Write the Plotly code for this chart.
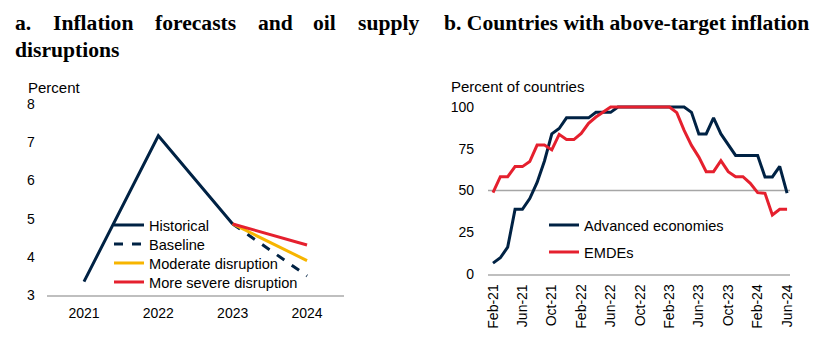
import plotly.graph_objects as go

# ---- Panel a data ----
years = ["2021", "2022", "2023", "2024"]
historical = [3.35, 7.17, 4.86, None]
baseline = [None, None, 4.86, 3.5]
moderate = [None, None, 4.86, 3.9]
severe = [None, None, 4.86, 4.31]

# ---- Panel b data (monthly Feb-21 .. Jun-24) ----
months = list(range(41))
month_ticks = [0, 4, 8, 12, 16, 20, 24, 28, 32, 36, 40]
month_labels = ["Feb-21", "Jun-21", "Oct-21", "Feb-22", "Jun-22", "Oct-22",
                "Feb-23", "Jun-23", "Oct-23", "Feb-24", "Jun-24"]
advanced = [6.5, 9.7, 16.1, 38.7, 38.7, 45.2, 54.8, 67.7, 83.9, 87.1,
            93.5, 93.5, 93.5, 93.5, 96.8, 96.8, 96.8, 100, 100, 100,
            100, 100, 100, 100, 100, 100, 100, 96.8, 83.9, 83.9,
            93.5, 83.9, 77.4, 71.0, 71.0, 71.0, 71.0, 58.1, 58.1, 64.5, 48.4]
emdes = [48.7, 58.3, 58.3, 64.3, 64.3, 67.3, 77.2, 77.2, 74.3, 83.6,
         80.5, 80.5, 84.2, 90.2, 94.0, 97.0, 100, 100, 100, 100,
         100, 100, 100, 100, 100, 96.6, 86.0, 77.0, 70.0, 61.3,
         61.3, 67.9, 61.3, 58.3, 58.3, 54.3, 48.7, 48.3, 35.3, 38.7, 38.7]

NAVY = "#002244"
RED = "#E5202E"
GOLD = "#F7B500"
SANS = "Liberation Sans, Arial, sans-serif"
SERIF = "Liberation Serif, Times New Roman, serif"

W, H = 840, 350
def px_x(p):
    return p / W
def px_y(p):
    return 1 - p / H

fig = go.Figure()

fig.add_trace(go.Scatter(x=years, y=historical, name="Historical", mode="lines",
                         line=dict(color=NAVY, width=3), xaxis="x", yaxis="y",
                         legend="legend"))
fig.add_trace(go.Scatter(x=years, y=baseline, name="Baseline", mode="lines",
                         line=dict(color=NAVY, width=3, dash="dash"), xaxis="x", yaxis="y",
                         legend="legend2"))
fig.add_trace(go.Scatter(x=years, y=moderate, name="Moderate disruption", mode="lines",
                         line=dict(color=GOLD, width=3), xaxis="x", yaxis="y",
                         legend="legend3"))
fig.add_trace(go.Scatter(x=years, y=severe, name="More severe disruption", mode="lines",
                         line=dict(color=RED, width=3), xaxis="x", yaxis="y",
                         legend="legend4"))

fig.add_trace(go.Scatter(x=months, y=advanced, name="Advanced economies", mode="lines",
                         line=dict(color=NAVY, width=3), xaxis="x2", yaxis="y2",
                         legend="legend5"))
fig.add_trace(go.Scatter(x=months, y=emdes, name="EMDEs", mode="lines",
                         line=dict(color=RED, width=3), xaxis="x2", yaxis="y2",
                         legend="legend6"))

tickfont = dict(family=SANS, size=14, color="#000000")
legfont = dict(family=SANS, size=14.6, color="#000000")

def leg(xpx, centre_px):
    return dict(x=px_x(xpx), y=px_y(centre_px - 16), xanchor="left", yanchor="top",
                bgcolor="rgba(0,0,0,0)", font=legfont, itemwidth=30,
                borderwidth=0)

fig.update_layout(
    template="none",
    width=W, height=H,
    margin=dict(l=0, r=0, t=0, b=0, pad=0, autoexpand=False),
    paper_bgcolor="white", plot_bgcolor="white",
    font=dict(family=SANS, size=14, color="#000000"),
    xaxis=dict(domain=[px_x(46.8), px_x(344.2)], type="category",
               range=[-0.5, 3.5], showgrid=False, zeroline=False,
               showline=True, linecolor="#bfbfbf", linewidth=1.5,
               ticks="", tickfont=tickfont, ticklabelstandoff=4, automargin=False),
    yaxis=dict(domain=[px_y(295), px_y(104)], range=[3, 8],
               tickvals=[3, 4, 5, 6, 7, 8], showgrid=False, zeroline=False,
               showline=False, ticks="", tickfont=tickfont, ticklabelstandoff=11,
               automargin=False),
    xaxis2=dict(domain=[px_x(488), px_x(790)], range=[-0.68, 40.4],
                tickvals=month_ticks, ticktext=month_labels, tickangle=-90,
                showgrid=False, zeroline=False, showline=True,
                linecolor="#bfbfbf", linewidth=1.5, ticks="", tickfont=tickfont,
                ticklabelstandoff=3, anchor="y2", automargin=False),
    yaxis2=dict(domain=[px_y(274), px_y(103.66)], range=[0, 102],
                tickvals=[0, 25, 50, 75, 100], showgrid=False, zeroline=False,
                showline=False, ticks="", tickfont=tickfont, ticklabelstandoff=13,
                anchor="x2", automargin=False),
    legend=leg(109, 225),
    legend2=leg(109, 244),
    legend3=leg(109, 263),
    legend4=leg(109, 282),
    legend5=leg(544, 225),
    legend6=leg(544, 252),
    showlegend=True,
)

# 50% reference line in panel b
fig.add_shape(type="line", xref="x2 domain", yref="y2", x0=0, x1=1, y0=50, y1=50,
              line=dict(color="#a6a6a6", width=1.5), layer="below")

# Axis unit labels
fig.add_annotation(text="Percent", xref="paper", yref="paper", x=px_x(26), y=px_y(87),
                   xanchor="left", yanchor="middle", showarrow=False,
                   font=dict(family=SANS, size=15))
fig.add_annotation(text="Percent of countries", xref="paper", yref="paper",
                   x=px_x(449), y=px_y(86), xanchor="left", yanchor="middle",
                   showarrow=False, font=dict(family=SANS, size=15))

# Titles (panel a is justified across its width)
title_font = dict(family=SERIF, size=21.6, color="#000000")
words_a = [("a.", 13), ("Inflation", 51), ("forecasts", 153), ("and", 256),
           ("oil", 311), ("supply", 356)]
for w, xx in words_a:
    fig.add_annotation(text="<b>%s</b>" % w, xref="paper", yref="paper",
                       x=px_x(xx), y=px_y(23), xanchor="left", yanchor="middle",
                       showarrow=False, font=title_font)
fig.add_annotation(text="<b>disruptions</b>", xref="paper", yref="paper",
                   x=px_x(13), y=px_y(50), xanchor="left", yanchor="middle",
                   showarrow=False, font=title_font)
fig.add_annotation(text="<b>b. Countries with above-target inflation</b>", xref="paper",
                   yref="paper", x=px_x(442), y=px_y(23), xanchor="left",
                   yanchor="middle", showarrow=False, font=title_font)

fig.write_html("out.html")
